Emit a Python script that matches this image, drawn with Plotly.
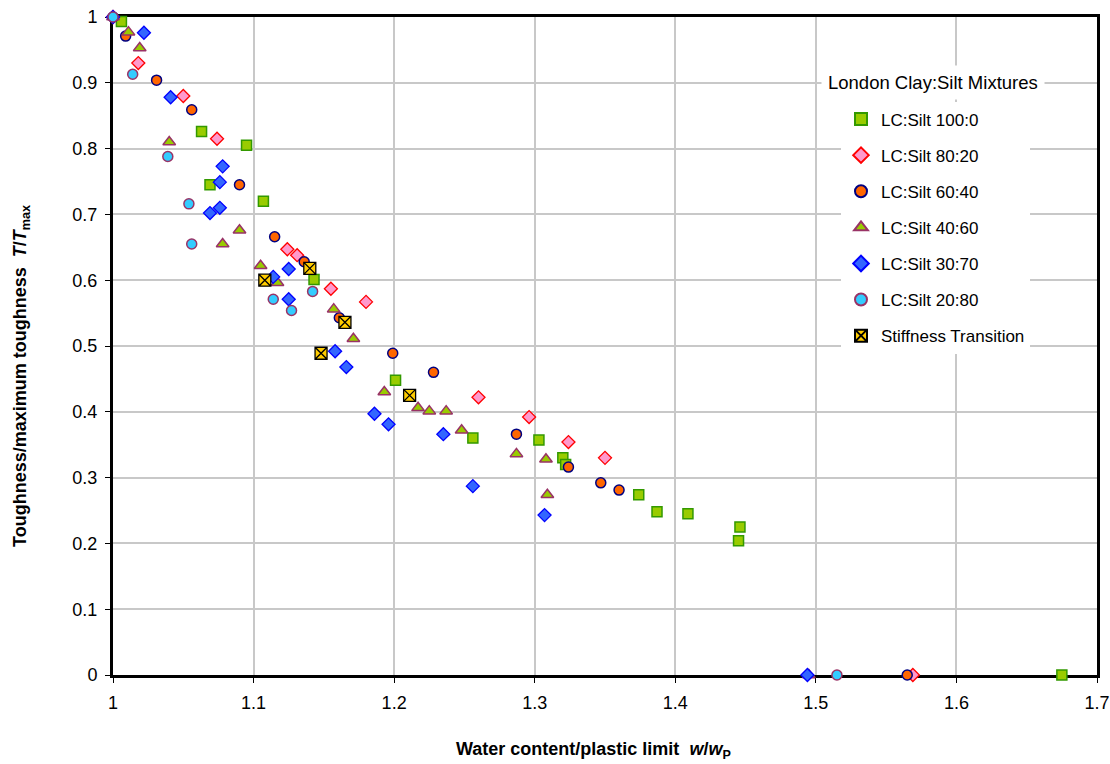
import plotly.graph_objects as go

# ---- data ----
x_100_0 = [1.006, 1.063, 1.069, 1.095, 1.107, 1.143, 1.201, 1.256, 1.303, 1.320, 1.322, 1.374, 1.387, 1.409, 1.446, 1.445, 1.675]
y_100_0 = [0.993, 0.826, 0.745, 0.805, 0.720, 0.601, 0.448, 0.360, 0.357, 0.330, 0.320, 0.274, 0.248, 0.245, 0.225, 0.204, 0.0]

x_80_20 = [1.0, 1.018, 1.050, 1.074, 1.124, 1.131, 1.155, 1.180, 1.260, 1.296, 1.324, 1.350, 1.569]
y_80_20 = [1.0, 0.930, 0.880, 0.815, 0.647, 0.638, 0.587, 0.567, 0.422, 0.392, 0.354, 0.330, 0.0]

x_60_40 = [1.0, 1.009, 1.031, 1.056, 1.090, 1.115, 1.136, 1.161, 1.199, 1.228, 1.287, 1.324, 1.347, 1.360, 1.565]
y_60_40 = [1.0, 0.971, 0.904, 0.859, 0.745, 0.666, 0.628, 0.543, 0.489, 0.460, 0.366, 0.316, 0.292, 0.281, 0.0]

x_40_60 = [1.0, 1.011, 1.019, 1.040, 1.090, 1.078, 1.105, 1.117, 1.157, 1.171, 1.193, 1.217, 1.225, 1.237, 1.248, 1.287, 1.308, 1.309, 1.495]
y_40_60 = [1.0, 0.977, 0.953, 0.810, 0.676, 0.655, 0.622, 0.596, 0.556, 0.511, 0.430, 0.406, 0.401, 0.401, 0.372, 0.336, 0.328, 0.274, 0.0]

x_30_70 = [1.0, 1.022, 1.041, 1.078, 1.076, 1.076, 1.069, 1.114, 1.125, 1.125, 1.158, 1.166, 1.186, 1.196, 1.235, 1.256, 1.307, 1.494]
y_30_70 = [1.0, 0.976, 0.878, 0.773, 0.749, 0.710, 0.702, 0.605, 0.617, 0.571, 0.492, 0.468, 0.397, 0.381, 0.366, 0.287, 0.243, 0.0]

x_20_80 = [1.0, 1.014, 1.039, 1.054, 1.056, 1.114, 1.127, 1.142, 1.515]
y_20_80 = [1.0, 0.913, 0.788, 0.716, 0.655, 0.571, 0.554, 0.583, 0.0]

x_stiff = [1.108, 1.140, 1.165, 1.148, 1.211]
y_stiff = [0.600, 0.618, 0.536, 0.489, 0.425]

x_ticks = [1, 1.1, 1.2, 1.3, 1.4, 1.5, 1.6, 1.7]
y_ticks = [0, 0.1, 0.2, 0.3, 0.4, 0.5, 0.6, 0.7, 0.8, 0.9, 1]

series = [
    ("LC:Silt 100:0", x_100_0, y_100_0, "square", 10, "#99CC00", "#339900", 1.5),
    ("LC:Silt 80:20", x_80_20, y_80_20, "diamond", 10, "#FF99CC", "#FF0000", 1.3),
    ("LC:Silt 60:40", x_60_40, y_60_40, "circle", 10, "#FF6600", "#000080", 1.5),
    ("LC:Silt 40:60", x_40_60, y_40_60, "triangle-up", 11, "#99CC00", "#993366", 1.5),
    ("LC:Silt 30:70", x_30_70, y_30_70, "diamond", 10, "#3366FF", "#0000FF", 1.3),
    ("LC:Silt 20:80", x_20_80, y_20_80, "circle", 10, "#33CCFF", "#993366", 1.5),
    ("Stiffness Transition", x_stiff, y_stiff, "square-x", 12, "#FFCC00", "#000000", 1.3),
]

fig = go.Figure()
for i, (name, xs, ys, sym, sz, fill, line, lw) in enumerate(series):
    fig.add_trace(go.Scatter(
        x=xs, y=ys, mode="markers", name=name, legendgroup=f"g{i}",
        cliponaxis=False,
        marker=dict(symbol=sym, size=sz, color=fill, line=dict(color=line, width=lw)),
    ))

font = "Arial, Liberation Sans, sans-serif"
L, R, T, B, W, H = 113, 13, 17, 89, 1110, 764
PW, PH = W - L - R, H - T - B


def px_x(p):
    return (p - L) / PW


def px_y(p):
    return 1 - (p - T) / PH


fig.update_layout(
    width=W, height=H,
    margin=dict(l=L, r=R, t=T, b=B),
    paper_bgcolor="white", plot_bgcolor="white",
    font=dict(family=font, size=18, color="black"),
    showlegend=True,
    legend=dict(
        x=px_x(841), y=px_y(101.5), xanchor="left", yanchor="top",
        bgcolor="white", borderwidth=0,
        font=dict(family=font, size=17, color="black"),
        tracegroupgap=11, itemsizing="constant",
    ),
    annotations=[
        dict(text="London Clay:Silt Mixtures", xref="paper", yref="paper",
             x=px_x(821), y=px_y(82), xanchor="left", yanchor="middle",
             showarrow=False, bgcolor="white", borderpad=6,
             font=dict(family=font, size=18.5, color="black")),
        dict(text="<b>Water content/plastic limit  <i>w</i>/<i>w</i><sub>P</sub></b>",
             xref="paper", yref="paper", x=px_x(593), y=px_y(750),
             xanchor="center", yanchor="middle", showarrow=False,
             font=dict(family=font, size=18, color="black")),
        dict(text="<b>Toughness/maximum toughness  <i>T</i>/<i>T</i><sub>max</sub></b>",
             xref="paper", yref="paper", x=px_x(21), y=px_y(376),
             xanchor="center", yanchor="middle", showarrow=False, textangle=-90,
             font=dict(family=font, size=18, color="black")),
    ],
)
fig.update_xaxes(
    range=[1, 1.7], tickvals=x_ticks, ticktext=[str(v) for v in x_ticks],
    showgrid=True, gridcolor="#C8C8C8", gridwidth=1.5,
    showline=True, linecolor="black", linewidth=3, mirror=True,
    ticks="outside", ticklen=5, tickcolor="black", tickwidth=1,
    zeroline=False, automargin=False, ticklabelstandoff=4,
    ticklabeloverflow="allow", layer="below traces",
)
fig.update_yaxes(
    range=[0, 1], tickvals=y_ticks, ticktext=[str(v) for v in y_ticks],
    showgrid=True, gridcolor="#C8C8C8", gridwidth=1.5,
    showline=True, linecolor="black", linewidth=3, mirror=True,
    ticks="outside", ticklen=5, tickcolor="black", tickwidth=1,
    zeroline=False, automargin=False, ticklabelstandoff=4,
    ticklabeloverflow="allow", layer="below traces",
)
fig.write_html("out.html", config={"displayModeBar": False},
               post_script="document.body.style.margin='0';")
